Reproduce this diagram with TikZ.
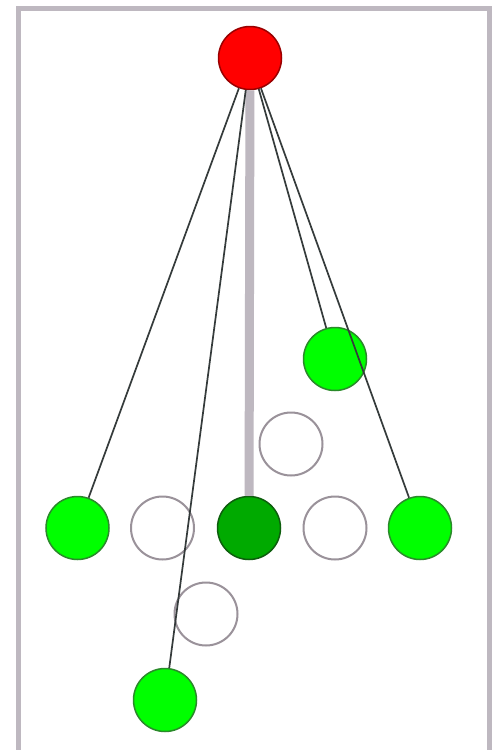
\documentclass[tikz,border=0pt]{standalone}
\definecolor{framec}{HTML}{BEB8C0}
\definecolor{rootfill}{HTML}{FF0000}
\definecolor{rootdraw}{HTML}{9A0000}
\definecolor{leaffill}{HTML}{00FF00}
\definecolor{leafdraw}{HTML}{2A8A2A}
\definecolor{dleaffill}{HTML}{00AA00}
\definecolor{dleafdraw}{HTML}{0D5E0D}
\definecolor{holedraw}{HTML}{9A929A}
\definecolor{edgec}{HTML}{353B3B}
\begin{document}
\begin{tikzpicture}[x=1pt,y=-1pt,
  nd/.style={circle,inner sep=0pt,minimum size=63pt,line width=1.5pt},
  rootnode/.style={nd,fill=rootfill,draw=rootdraw},
  leaf/.style={nd,fill=leaffill,draw=leafdraw},
  dleaf/.style={nd,fill=dleaffill,draw=dleafdraw},
  hole/.style={nd,fill=white,draw=holedraw,line width=2pt},
  edge/.style={draw=edgec,line width=1.7pt},
  thickedge/.style={draw=framec,line width=9pt}]
\useasboundingbox (0,0) rectangle (497,750);
\clip (0,0) rectangle (497,750);
\fill[white] (0,0) rectangle (497,750);
\draw[framec,line width=5pt] (18.5,8.5) rectangle (489.2,752.5);
\node[rootnode] (root) at (250,58) {};
\node[leaf] (g1) at (335,359) {};
\node[hole] (e1) at (291,444) {};
\node[leaf] (gL) at (77.5,528) {};
\node[hole] (eA) at (162.5,528) {};
\node[dleaf] (dg) at (249,528) {};
\node[hole] (eB) at (335,528) {};
\node[leaf] (gR) at (420,528) {};
\node[hole] (e2) at (206,614) {};
\node[leaf] (gB) at (165,700) {};
\draw[thickedge] (root) -- (dg);
\draw[edge] (root) -- (gL);
\draw[edge] (root) -- (gB);
\draw[edge] (root) -- (g1);
\draw[edge] (root) -- (gR);
\end{tikzpicture}
\end{document}
